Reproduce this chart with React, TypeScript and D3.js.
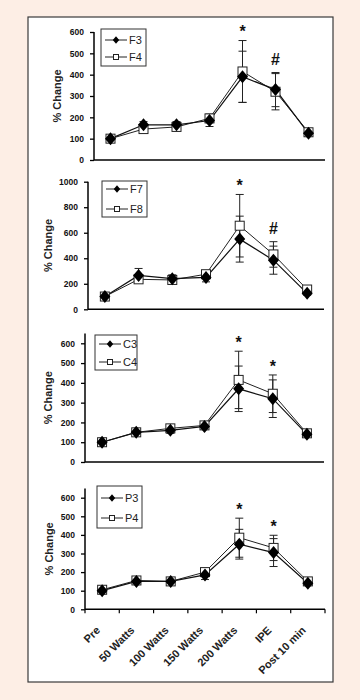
import React, { useEffect, useRef } from 'react';
import * as d3 from 'd3';

// categories on the x axis
const categories = ['Pre', '50 Watts', '100 Watts', '150 Watts', '200 Watts', 'IPE', 'Post 10 min'];

// panel 1
const f3 = [100, 165, 165, 185, 390, 330, 125];
const f3Err = [10, 15, 15, 28, 120, 80, 10];
const f4 = [100, 145, 155, 195, 415, 320, 130];
const f4Err = [10, 12, 15, 20, 145, 85, 10];

// panel 2
const f7 = [100, 265, 240, 250, 550, 385, 125];
const f7Err = [15, 55, 30, 35, 180, 110, 15];
const f8 = [100, 235, 230, 275, 655, 430, 155];
const f8Err = [15, 20, 25, 25, 245, 100, 15];

// panel 3
const c3 = [100, 150, 160, 180, 370, 320, 140];
const c3Err = [10, 12, 15, 15, 115, 95, 10];
const c4 = [100, 150, 170, 185, 415, 345, 145];
const c4Err = [10, 12, 15, 15, 145, 95, 10];

// panel 4
const p3 = [100, 150, 150, 185, 350, 305, 140];
const p3Err = [10, 12, 12, 25, 80, 75, 10];
const p4 = [105, 155, 150, 200, 385, 330, 150];
const p4Err = [10, 12, 12, 15, 105, 68, 10];

// significance marks: [category index, symbol]
const marks1: [number, string][] = [[4, '*'], [5, '#']];
const marks2: [number, string][] = [[4, '*'], [5, '#']];
const marks3: [number, string][] = [[4, '*'], [5, '*']];
const marks4: [number, string][] = [[4, '*'], [5, '*']];

const FONT = '"Liberation Sans", Arial, sans-serif';

const panels = [
  { names: ['F3', 'F4'], a: f3, aErr: f3Err, b: f4, bErr: f4Err, top: 600, axisMax: 600, step: 100, marks: marks1,
    x0: 94, x1: 325, yTop: 32, y0: 160, titleX: 57, leg: { x: 101, y: 29, w: 45, h: 37, e1: 40, e2: 57 } },
  { names: ['F7', 'F8'], a: f7, aErr: f7Err, b: f8, bErr: f8Err, top: 1000, axisMax: 1000, step: 200, marks: marks2,
    x0: 88, x1: 324, yTop: 181.7, y0: 309.3, titleX: 48, leg: { x: 102, y: 181, w: 45, h: 36, e1: 189, e2: 209 } },
  { names: ['C3', 'C4'], a: c3, aErr: c3Err, b: c4, bErr: c4Err, top: 600, axisMax: 650, step: 100, marks: marks3,
    x0: 85, x1: 324, yTop: 343.3, y0: 462, titleX: 48, leg: { x: 95, y: 335, w: 42, h: 35, e1: 344, e2: 362 } },
  { names: ['P3', 'P4'], a: p3, aErr: p3Err, b: p4, bErr: p4Err, top: 600, axisMax: 650, step: 100, marks: marks4,
    x0: 85, x1: 325, yTop: 497.7, y0: 609.3, titleX: 49, leg: { x: 97, y: 486, w: 45, h: 42, e1: 498, e2: 518 } },
];

const diamond = (cx: number, cy: number, w: number, h: number) =>
  `M${cx},${cy - h}L${cx + w},${cy}L${cx},${cy + h}L${cx - w},${cy}Z`;

const Chart = () => {
  const ref = useRef<SVGSVGElement | null>(null);

  useEffect(() => {
    if (!ref.current) return;
    const svg = d3.select(ref.current);
    svg.selectAll('*').remove();

    svg.append('rect').attr('width', 360).attr('height', 700).attr('fill', '#fdeee5');
    svg.append('rect').attr('x', 28).attr('y', 17).attr('width', 305).attr('height', 665)
      .attr('fill', '#fff').attr('stroke', '#3a3a3a').attr('stroke-width', 1.2);

    panels.forEach((p, pi) => {
      const g = svg.append('g').style('font-family', FONT);
      const x = d3.scaleBand().domain(categories).range([p.x0, p.x1]);
      const bw = x.bandwidth();
      const cx = (i: number) => x(categories[i])! + bw / 2;
      const y = d3.scaleLinear().domain([0, p.top]).range([p.y0, p.yTop]);

      // y axis
      const yAxis = d3.axisLeft(y).tickValues(d3.range(0, p.top + 1, p.step))
        .tickFormat(d3.format('d')).tickSize(4).tickPadding(6);
      const ya = g.append('g').attr('transform', `translate(${p.x0},0)`).call(yAxis);
      ya.select('.domain').remove();
      ya.selectAll('line').attr('stroke', '#000').attr('stroke-width', 1.3);
      ya.selectAll('text').attr('font-size', 8.5).attr('font-weight', 'bold').attr('font-family', FONT).attr('fill', '#111');
      g.append('line').attr('x1', p.x0).attr('x2', p.x0).attr('y1', p.y0).attr('y2', y(p.axisMax))
        .attr('stroke', '#000').attr('stroke-width', 1.5);

      // x axis
      g.append('line').attr('x1', p.x0).attr('x2', p.x1).attr('y1', p.y0).attr('y2', p.y0)
        .attr('stroke', '#000').attr('stroke-width', 1.5);

      g.append('text')
        .attr('transform', `translate(${p.titleX},${(p.y0 + y(p.axisMax)) / 2}) rotate(-90)`)
        .attr('text-anchor', 'middle').attr('dy', '0.35em')
        .attr('font-size', 11).attr('font-weight', 'bold').attr('fill', '#222')
        .text('% Change');

      if (pi === panels.length - 1) {
        d3.range(categories.length + 1).forEach(i => {
          const tx = p.x0 + i * bw;
          g.append('line').attr('x1', tx).attr('x2', tx).attr('y1', p.y0).attr('y2', p.y0 + 4)
            .attr('stroke', '#000').attr('stroke-width', 1.2);
        });
        categories.forEach((c, i) => {
          g.append('text')
            .attr('transform', `translate(${cx(i) - 4},${p.y0 + 19}) rotate(-45)`)
            .attr('text-anchor', 'end').attr('dy', '0.35em')
            .attr('font-size', 11).attr('font-weight', 'bold').attr('fill', '#222')
            .text(c);
        });
      }

      const line = d3.line<number>().x((_, i) => cx(i)).y(d => y(d));

      const drawErr = (vals: number[], errs: number[]) => {
        vals.forEach((v, i) => {
          const xx = cx(i);
          const hi = y(v + errs[i]);
          const lo = y(v - errs[i]);
          g.append('line').attr('x1', xx).attr('x2', xx).attr('y1', hi).attr('y2', lo).attr('stroke', '#222').attr('stroke-width', 1);
          [hi, lo].forEach(yy => g.append('line').attr('x1', xx - 4).attr('x2', xx + 4).attr('y1', yy).attr('y2', yy)
            .attr('stroke', '#222').attr('stroke-width', 1));
        });
      };

      drawErr(p.b, p.bErr);
      drawErr(p.a, p.aErr);
      g.append('path').attr('d', line(p.b)).attr('fill', 'none').attr('stroke', '#222').attr('stroke-width', 1);
      g.append('path').attr('d', line(p.a)).attr('fill', 'none').attr('stroke', '#111').attr('stroke-width', 1.2);

      p.b.forEach((v, i) => {
        g.append('rect').attr('x', cx(i) - 4.5).attr('y', y(v) - 4.5).attr('width', 9).attr('height', 9)
          .attr('fill', '#fff').attr('stroke', '#222').attr('stroke-width', 1);
      });
      p.a.forEach((v, i) => {
        g.append('path').attr('d', diamond(cx(i), y(v), 5.5, 6.5)).attr('fill', '#000');
      });

      // significance marks
      p.marks.forEach(([i, s]) => {
        const topY = Math.min(y(p.a[i] + p.aErr[i]), y(p.b[i] + p.bErr[i]));
        g.append('text').attr('x', cx(i)).attr('y', topY - 13)
          .attr('text-anchor', 'middle').attr('dy', s === '*' ? '0.6em' : '0.36em')
          .attr('font-size', 16).attr('font-weight', 'bold').attr('fill', '#111')
          .text(s);
      });

      // legend
      const L = p.leg;
      g.append('rect').attr('x', L.x).attr('y', L.y).attr('width', L.w).attr('height', L.h)
        .attr('fill', '#fff').attr('stroke', '#333').attr('stroke-width', 1);
      [L.e1, L.e2].forEach((ey, k) => {
        g.append('line').attr('x1', L.x + 4).attr('x2', L.x + 26).attr('y1', ey).attr('y2', ey)
          .attr('stroke', '#222').attr('stroke-width', 1);
        if (k === 0) {
          g.append('path').attr('d', diamond(L.x + 15, ey, 3.2, 3.8)).attr('fill', '#000');
        } else {
          g.append('rect').attr('x', L.x + 12.5).attr('y', ey - 2.5).attr('width', 5).attr('height', 5)
            .attr('fill', '#fff').attr('stroke', '#222').attr('stroke-width', 1);
        }
        g.append('text').attr('x', L.x + 28).attr('y', ey).attr('dy', '0.35em')
          .attr('font-size', 11).attr('fill', '#222').text(p.names[k]);
      });
    });
  }, []);

  return <svg ref={ref} width={360} height={700} style={{ position: 'absolute', left: 0, top: 0 }} />;
};

export default function App() {
  return <Chart />;
}
